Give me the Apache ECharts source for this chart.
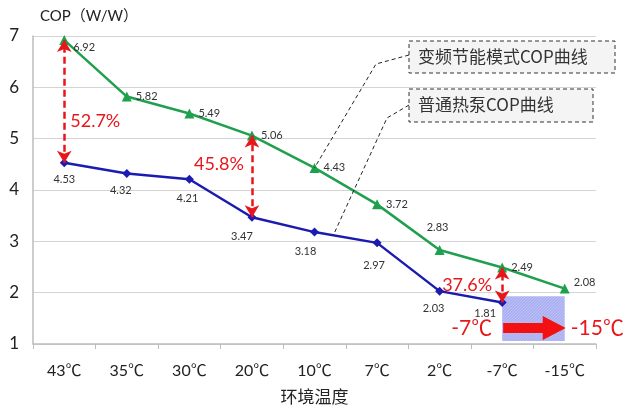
<!DOCTYPE html>
<html><head><meta charset="utf-8">
<script src="https://cdn.jsdelivr.net/npm/echarts@6/dist/echarts.min.js"></script>
<style>html,body{margin:0;padding:0;background:#fff}#c{width:640px;height:410px}</style>
</head><body><div id="c"></div>
<script>
const categories = ['43℃','35℃','30℃','20℃','10℃','7℃','2℃','-7℃','-15℃'];
const inverterCOP = [6.92,5.82,5.49,5.06,4.43,3.72,2.83,2.49,2.08];
const normalCOP = [4.53,4.32,4.21,3.47,3.18,2.97,2.03,1.81,null];
const yMin = 1, yMax = 7, yInterval = 1;
const gapIndices = [0,3,7];
const gapLabels = ['52.7%','45.8%','37.6%'];
const seriesNames = ['变频节能模式COP曲线','普通热泵COP曲线'];
const fromTemp = '-7℃', toTemp = '-15℃';

const FONT = 'Lato, "Noto Sans CJK SC", sans-serif';
const RED = '#e8161b';
const greenOffsets = [[0,7],[0,0],[0,0],[0,0],[0,0],[0,0],null,[0,0],[0,-6]];
const blueOffsets = [[0,2],[-6,2],[-2,4],[-10,4],[-9,4],[-3,8],[-6,2],[-17,-4]];

const pc = document.createElement('canvas');
pc.width = 3; pc.height = 3;
const pctx = pc.getContext('2d');
pctx.fillStyle = '#aab0f1'; pctx.fillRect(0,0,3,3);
pctx.fillStyle = '#bcc0f4';
pctx.fillRect(2,0,1,1); pctx.fillRect(1,1,1,1); pctx.fillRect(0,2,1,1);

const chart = echarts.init(document.getElementById('c'));
chart.setOption({
  animation:false,
  textStyle:{fontFamily:FONT},
  grid:{left:33,right:44,top:36,bottom:64},
  xAxis:{type:'category',data:categories,boundaryGap:true,
    axisLine:{lineStyle:{color:'#bdbdbd',width:1.5}},
    axisTick:{show:true,length:5,lineStyle:{color:'#bdbdbd'}},
    axisLabel:{color:'#222',fontSize:16,margin:19,fontFamily:FONT},
    name:'环境温度',nameLocation:'middle',nameGap:44,
    nameTextStyle:{color:'#222',fontSize:17,fontFamily:'"Noto Sans CJK SC", sans-serif'}},
  yAxis:{type:'value',min:yMin,max:yMax,interval:yInterval,
    axisLine:{show:true,lineStyle:{color:'#bdbdbd',width:1.5}},
    axisTick:{show:false},
    splitLine:{lineStyle:{color:'#d4d4d4',width:1.2}},
    axisLabel:{color:'#222',fontSize:17,margin:14,fontFamily:FONT},
    name:'COP（W/W）',nameLocation:'end',nameGap:12,
    nameTextStyle:{color:'#222',fontSize:15,align:'left',padding:[0,0,0,7],fontFamily:FONT}},
  series:[
    {name:seriesNames[0],type:'line',data:inverterCOP.map((v,i)=>{
        const o = greenOffsets[i];
        return {value:v,label: o ? {position:'right',offset:o} : {position:'top',offset:[-2,-8]}};
      }),
      symbol:'triangle',symbolSize:10,
      lineStyle:{color:'#1fa04e',width:2.5},itemStyle:{color:'#1fa04e'},
      label:{show:true,color:'#333',fontSize:11,distance:4,fontFamily:FONT},
      markLine:{silent:true,symbol:['arrow','arrow'],symbolSize:[11,12],
        label:{show:false},
        lineStyle:{color:RED,type:[7,4],width:2.5},
        data:gapIndices.map(i=>[{coord:[i,normalCOP[i]]},{coord:[i,inverterCOP[i]]}])},
      z:3},
    {name:seriesNames[1],type:'line',data:normalCOP.map((v,i)=>({value:v,label:{offset:blueOffsets[i]||[0,0]}})),
      symbol:'diamond',symbolSize:9,
      lineStyle:{color:'#1b1bb0',width:2.5},itemStyle:{color:'#1b1bb0'},
      label:{show:true,position:'bottom',color:'#333',fontSize:11,distance:5,fontFamily:FONT},
      z:2}
  ]
});

function px(i,v){return chart.convertToPixel({gridIndex:0},[i,v]);}
const g = [];
const pctPos = [[0,5.35,6],[3,4.5,-58],[7,2.14,-60]];
gapLabels.forEach((t,k)=>{
  const p = px(pctPos[k][0],pctPos[k][1]);
  g.push({type:'text',x:p[0]+pctPos[k][2],y:p[1],style:{text:t,fill:RED,fontSize:18,fontFamily:FONT,textVerticalAlign:'middle'},z:10});
});
const a = px(7,1.93), b = px(8,1.06);
g.push({type:'rect',shape:{x:a[0],y:a[1],width:b[0]-a[0],height:b[1]-a[1]},style:{fill:{image:pc,repeat:'repeat'}},z:1});
const yc = px(7,1.31)[1], x7=a[0], x8=b[0];
g.push({type:'polygon',shape:{points:[[x7+1,yc-5],[x8-22,yc-5],[x8-22,yc-12],[x8+1,yc],[x8-22,yc+12],[x8-22,yc+5],[x7+1,yc+5]]},style:{fill:'#f21010'},z:5});
g.push({type:'text',x:x7-10,y:yc,style:{text:fromTemp,fill:RED,fontSize:21,fontFamily:FONT,textAlign:'right',textVerticalAlign:'middle'},z:5});
g.push({type:'text',x:x8+6,y:yc,style:{text:toTemp,fill:RED,fontSize:21,fontFamily:FONT,textAlign:'left',textVerticalAlign:'middle'},z:5});
const boxFont = '"Noto Sans CJK SC", sans-serif';
g.push({type:'rect',shape:{x:409,y:41,width:206,height:32},style:{fill:'#f4f4f4',stroke:'#333',lineWidth:1,lineDash:[4,3]},z:6});
g.push({type:'text',x:418,y:57,style:{text:seriesNames[0],fill:'#333',fontSize:17,fontFamily:boxFont,textVerticalAlign:'middle'},z:7});
g.push({type:'rect',shape:{x:409,y:89,width:184,height:33},style:{fill:'#f4f4f4',stroke:'#333',lineWidth:1,lineDash:[4,3]},z:6});
g.push({type:'text',x:418,y:105,style:{text:seriesNames[1],fill:'#333',fontSize:17,fontFamily:boxFont,textVerticalAlign:'middle'},z:7});
const e1 = px(4,inverterCOP[4]);
const p4 = px(4,normalCOP[4]), p5 = px(5,normalCOP[5]);
const t = 0.3, e2 = [p4[0]+(p5[0]-p4[0])*t, p4[1]+(p5[1]-p4[1])*t];
g.push({type:'polyline',shape:{points:[[409,55],[376,64],[e1[0],e1[1]]]},style:{stroke:'#222',lineWidth:1,lineDash:[4,3],fill:null},z:6});
g.push({type:'polyline',shape:{points:[[409,105],[387,118],[e2[0],e2[1]]]},style:{stroke:'#222',lineWidth:1,lineDash:[4,3],fill:null},z:6});
chart.setOption({graphic:g});
</script></body></html>
